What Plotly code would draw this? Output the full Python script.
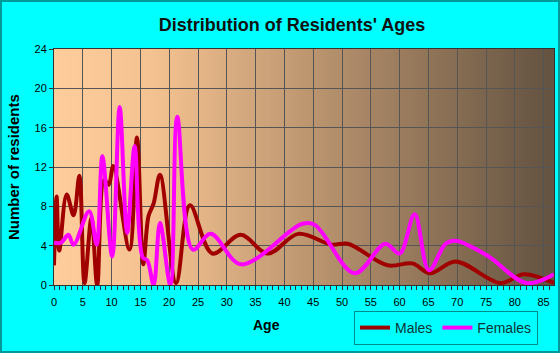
import plotly.graph_objects as go

# ---- data ----
male_age = [0, 0.45, 0.9, 2.2, 3.4, 4.4, 5.3, 6.5, 7.5, 8.7, 9.5, 10.3, 13.1, 14.4, 15.5,
            16.4, 17.3, 18.4, 21.2, 23.6, 27.5, 32.4, 37.1, 42.4, 48.2, 51.0, 57.9,
            62.2, 65.3, 69.7, 77.5, 81.6, 86.8]
male_val = [2.0, 9.0, 3.5, 9.2, 7.1, 11.1, 0.2, 6.8, 0.0, 10.7, 10.2, 12.1, 3.6, 15.0, 2.1,
            7.0, 8.3, 11.2, 0.2, 8.1, 3.2, 5.1, 3.2, 5.2, 4.1, 4.2, 2.0,
            2.2, 1.2, 2.4, 0.2, 1.1, 0.2]

female_age = [0, 1.2, 2.5, 3.4, 6.1, 7.4, 8.4, 10.1, 11.4, 12.7, 14.0, 15.4, 16.2, 17.3,
              18.4, 20.2, 21.4, 24.1, 27.2, 32.5, 43.0, 45.3, 52.2, 57.5, 60.0, 62.6,
              65.1, 68.0, 69.7, 75.2, 82.0, 86.8]
female_val = [4.3, 4.3, 5.1, 4.1, 7.5, 4.1, 13.1, 2.9, 18.1, 5.3, 14.1, 2.8, 2.5, 0.0,
              6.3, 0.0, 17.1, 3.6, 5.2, 2.1, 6.2, 6.1, 1.2, 4.2, 3.2, 7.2,
              1.5, 4.2, 4.5, 3.0, 0.2, 1.1]

x_ticks = list(range(0, 90, 5))
y_ticks = [0, 4, 8, 12, 16, 20, 24]

X_MAX = 86.8
Y_MAX = 24

fig = go.Figure()
fig.add_trace(go.Scatter(x=male_age, y=male_val, name="Males", mode="lines",
                         line=dict(color="#a00000", width=4, shape="spline", smoothing=1.0)))
fig.add_trace(go.Scatter(x=female_age, y=female_val, name="Females", mode="lines",
                         line=dict(color="#ff00ff", width=4, shape="spline", smoothing=1.0)))

# gradient background (below grid)
stops = [(0.0, (255, 205, 155)), (0.2, (244, 194, 144)), (0.6, (172, 137, 103)), (1.0, (98, 82, 64))]

def col(t):
    for (t0, c0), (t1, c1) in zip(stops[:-1], stops[1:]):
        if t0 <= t <= t1:
            f = (t - t0) / (t1 - t0)
            return "rgb(%d,%d,%d)" % tuple(round(a + (b - a) * f) for a, b in zip(c0, c1))
    return "rgb(%d,%d,%d)" % stops[-1][1]

N = 125
shapes = []
for i in range(N):
    t0 = i / N
    t1 = (i + 1) / N + 0.002
    shapes.append(dict(type="rect", xref="x domain", yref="y domain", x0=t0, x1=min(t1, 1.0),
                       y0=0, y1=1, fillcolor=col((i + 0.5) / N), line=dict(width=0), layer="below"))

L, R, T, B = 54, 6, 49, 68
W, H = 560, 353
pw, ph = W - L - R, H - T - B
# figure border
shapes.append(dict(type="rect", xref="paper", yref="paper",
                   x0=(1 - L) / pw, x1=(W - 1 - L) / pw,
                   y0=(-(B - 1)) / ph, y1=1 + (T - 1) / ph,
                   line=dict(color="#009999", width=2), layer="above"))

annotations = [
    dict(text="<b>Age</b>", xref="paper", yref="paper", x=(266 - L) / pw, y=-(325 - (H - B)) / ph,
         xanchor="center", yanchor="middle", showarrow=False, font=dict(size=14, color="black")),
    dict(text="<b>Number of residents</b>", xref="paper", yref="paper", x=-(L - 13) / pw,
         y=(H - B - 167) / ph, xanchor="center", yanchor="middle", textangle=-90,
         showarrow=False, font=dict(size=15, color="black")),
]

fig.update_layout(
    width=W, height=H,
    margin=dict(l=L, r=R, t=T, b=B, autoexpand=False),
    paper_bgcolor="#00ffff",
    plot_bgcolor="rgba(0,0,0,0)",
    font=dict(family="Liberation Sans, Arial, sans-serif", color="black"),
    title=dict(text="<b>Distribution of Residents' Ages</b>", x=292 / W, xanchor="center",
               y=1 - 25 / H, yanchor="middle", font=dict(size=18, color="#111111")),
    shapes=shapes,
    annotations=annotations,
    showlegend=True,
    legend=dict(orientation="h", x=446 / W, xref="container", y=1 - 311 / H, yref="container",
                xanchor="center", yanchor="top", bgcolor="#00ffff", bordercolor="#008b8b",
                borderwidth=1, font=dict(size=14, color="#113333"), itemwidth=30,
                tracegroupgap=0),
    xaxis=dict(range=[0, X_MAX], tickvals=x_ticks, showgrid=True, gridcolor="#555555",
               gridwidth=1, ticks="outside", ticklen=4, tickcolor="#333333",
               tickfont=dict(size=11), ticklabelstandoff=3, showline=True, linecolor="#333333",
               mirror=True,
               minor=dict(dtick=1, ticks="outside", ticklen=4, tickcolor="#333333", showgrid=False),
               zeroline=False, automargin=False),
    yaxis=dict(range=[0, Y_MAX], tickvals=y_ticks, showgrid=True, gridcolor="#555555",
               gridwidth=1, ticks="outside", ticklen=4, tickcolor="#333333",
               tickfont=dict(size=11), showline=True, linecolor="#333333", mirror=True,
               zeroline=False, automargin=False),
)

fig.write_html("out.html")
